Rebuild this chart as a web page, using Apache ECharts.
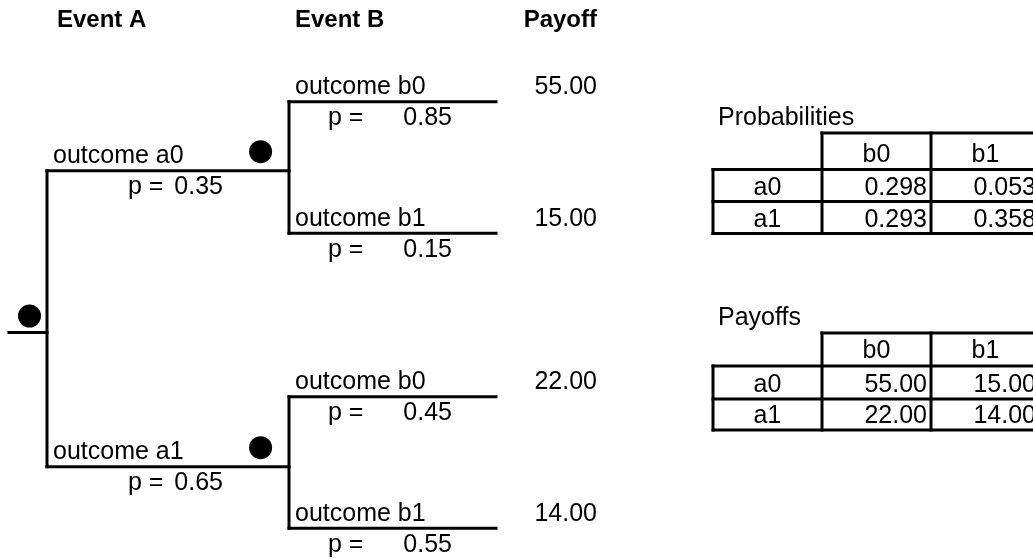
<!DOCTYPE html>
<html><head><meta charset="utf-8">
<script src="https://cdn.jsdelivr.net/npm/echarts@6/dist/echarts.min.js"></script>
<style>html,body{margin:0;padding:0;background:#fff}#c{width:1033px;height:559px}</style>
</head><body><div id="c"></div>
<script>
// ---- data ----
const eventNames = ['Event A', 'Event B'];
const payoffHeader = 'Payoff';
const outcomesA = ['outcome a0', 'outcome a1'];
const outcomesB = ['outcome b0', 'outcome b1'];
const probA = [0.35, 0.65];
const probB = [[0.85, 0.15], [0.45, 0.55]];
const payoffs = [[55, 15], [22, 14]];
const jointProb = [[0.298, 0.053], [0.293, 0.358]];
const rowKeys = ['a0', 'a1'];
const colKeys = ['b0', 'b1'];
const tableTitles = ['Probabilities', 'Payoffs'];

// ---- layout (positions on hidden pixel-space axes) ----
const L = {
  rootX: 9, aX: 47, bX: 289, endX: 496,
  rootY: 332.5, aY: [170.7, 466.7], bY: [[101.7, 233.3], [396.7, 528.3]],
  rootDotX: 29.5, rootDotLift: 16.5, aDotX: 260.6, aDotLift: 19,
  headerBase: 29, eventX: [57, 295], payoffRight: 597,
  aPLeft: 128, aPValRight: 223, bPLeft: 328, bPValRight: 452,
  labelAbove: 6, pBelow: 25,
  tableCols: [713, 822, 931, 1040],
  tables: [{ top: 133, rows: [169.5, 201.5, 233.5] }, { top: 333, rows: [366, 399, 430] }],
  titleX: 718
};

const segs = [];
const texts = [];
const dots = [];
const FONT = '"Liberation Sans", Arial, sans-serif';
function T(x, y, text, align, bold) { texts.push({ x, y, text, align: align || 'left', bold: !!bold }); }

// tree
segs.push([L.rootX, L.rootY, L.aX, L.rootY]);
segs.push([L.aX, L.aY[0], L.aX, L.aY[1]]);
dots.push([L.rootDotX, L.rootY - L.rootDotLift]);
T(L.eventX[0], L.headerBase, eventNames[0], 'left', true);
T(L.eventX[1], L.headerBase, eventNames[1], 'left', true);
T(L.payoffRight, L.headerBase, payoffHeader, 'right', true);
probA.forEach((pa, i) => {
  const y = L.aY[i];
  segs.push([L.aX, y, L.bX, y]);
  dots.push([L.aDotX, y - L.aDotLift]);
  T(L.aX + 6, y - L.labelAbove, outcomesA[i]);
  T(L.aPLeft, y + L.pBelow, 'p =');
  T(L.aPValRight, y + L.pBelow, pa.toFixed(2), 'right');
  segs.push([L.bX, L.bY[i][0], L.bX, L.bY[i][1]]);
  probB[i].forEach((pb, j) => {
    const yb = L.bY[i][j];
    segs.push([L.bX, yb, L.endX, yb]);
    T(L.bX + 6, yb - L.labelAbove, outcomesB[j]);
    T(L.bPLeft, yb + L.pBelow, 'p =');
    T(L.bPValRight, yb + L.pBelow, pb.toFixed(2), 'right');
    T(L.payoffRight, yb - L.labelAbove, payoffs[i][j].toFixed(2), 'right');
  });
});

// tables
const tableData = [jointProb, payoffs];
const tableDigits = [3, 2];
L.tables.forEach((tb, k) => {
  const C = L.tableCols;
  T(L.titleX, tb.top - 6, tableTitles[k]);
  segs.push([C[1], tb.top, C[3], tb.top]);
  tb.rows.forEach(y => segs.push([C[0], y, C[3], y]));
  segs.push([C[0], tb.rows[0], C[0], tb.rows[2]]);
  for (let c = 1; c < C.length; c++) segs.push([C[c], tb.top, C[c], tb.rows[2]]);
  colKeys.forEach((ck, j) => T((C[j + 1] + C[j + 2]) / 2, tb.rows[0] - 6, ck, 'center'));
  rowKeys.forEach((rk, i) => {
    const yb = tb.rows[i + 1] - 5;
    T((C[0] + C[1]) / 2, yb, rk, 'center');
    tableData[k][i].forEach((v, j) => T(C[j + 2] - 4, yb, v.toFixed(tableDigits[k]), 'right'));
  });
});

const chart = echarts.init(document.getElementById('c'));
chart.setOption({
  animation: false,
  backgroundColor: '#fff',
  grid: { left: 0, right: 0, top: 0, bottom: 0 },
  xAxis: { type: 'value', min: 0, max: 1033, show: false },
  yAxis: { type: 'value', min: 0, max: 559, inverse: true, show: false },
  series: [
    {
      type: 'custom', name: 'lines', silent: true,
      encode: { x: [0, 2], y: [1, 3] },
      data: segs,
      renderItem: (params, api) => {
        const p1 = api.coord([api.value(0), api.value(1)]);
        const p2 = api.coord([api.value(2), api.value(3)]);
        return { type: 'line', shape: { x1: p1[0], y1: p1[1], x2: p2[0], y2: p2[1] },
          style: { stroke: '#000', lineWidth: 3, lineCap: 'square' } };
      }
    },
    {
      type: 'scatter', name: 'nodes', silent: true,
      symbol: 'circle', symbolSize: 23,
      itemStyle: { color: '#000', opacity: 1 },
      data: dots
    },
    {
      type: 'custom', name: 'texts', silent: true,
      encode: { x: 0, y: 1 },
      data: texts.map(t => [t.x, t.y]),
      renderItem: (params, api) => {
        const t = texts[params.dataIndex];
        const p = api.coord([api.value(0), api.value(1)]);
        return { type: 'text', x: p[0], y: p[1] - 8.5,
          style: { text: t.text, fill: '#000', font: (t.bold ? 'bold 24px ' : '25px ') + FONT,
            align: t.align, verticalAlign: 'middle' } };
      }
    }
  ]
});
</script>
</body></html>
